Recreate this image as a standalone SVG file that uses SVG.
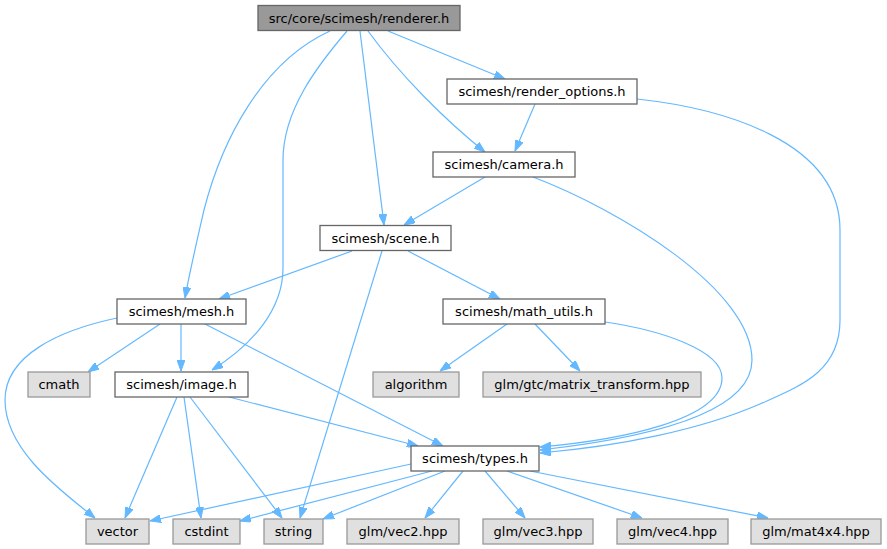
<svg xmlns="http://www.w3.org/2000/svg" width="887" height="549" viewBox="0 0 887 549">
<style>
.n rect{fill:#ffffff;stroke:#666666;stroke-width:1.3}
.n.root rect{fill:#999999;stroke:#666666}
.n.leaf rect{fill:#e0e0e0;stroke:#999999}
.n text{font-family:"DejaVu Sans",sans-serif;font-size:13px;fill:#000000;text-anchor:middle}
#edges path{fill:none;stroke:#63b8ff;stroke-width:1.2;marker-end:url(#ah)}
</style>
<defs>
<marker id="ah" markerUnits="userSpaceOnUse" markerWidth="11" markerHeight="8" refX="11" refY="4" orient="auto">
<path d="M0,0 L11,4 L0,8 z" fill="#63b8ff" stroke="#63b8ff" stroke-width="1"/>
</marker>
</defs>
<rect width="887" height="549" fill="#ffffff"/>
<g id="edges">
<path d="M388,31 L505,79"/>
<path d="M368,31 C400,75 445,120 485,152"/>
<path d="M360,31 L384,225"/>
<path d="M330,31 C262,62 222,140 204,210 C196,245 189,275 185,298"/>
<path d="M347,31 C318,65 283,110 283,160 L283,268 C283,310 252,345 212,370"/>
<path d="M535,104 L515,151"/>
<path d="M637,99 C720,108 840,140 840,230 L840,320 C840,372 800,386 760,404 C700,430 620,446 540,453"/>
<path d="M485,177 L404,225"/>
<path d="M533,177 C620,210 752,290 752,360 C752,420 620,441 540,450"/>
<path d="M352,251 L219,299"/>
<path d="M408,251 L500,299"/>
<path d="M382,251 L300,518"/>
<path d="M160,324 L88,372"/>
<path d="M181,324 L181,371"/>
<path d="M117,318 C60,330 5,355 5,400 C5,450 60,490 95,518"/>
<path d="M205,324 L443,446"/>
<path d="M177,397 L125,518"/>
<path d="M184,397 L201,518"/>
<path d="M190,397 L282,518"/>
<path d="M229,397 L418,446"/>
<path d="M507,324 L440,371"/>
<path d="M535,324 L580,371"/>
<path d="M605,322 C660,330 722,350 722,378 C722,420 620,440 540,447"/>
<path d="M411,464 L150,521"/>
<path d="M432,471 L240,521"/>
<path d="M445,471 L323,519"/>
<path d="M463,471 L425,518"/>
<path d="M485,471 L525,518"/>
<path d="M507,471 L642,518"/>
<path d="M530,471 L768,518"/>
</g>
<g id="renderer" class="n root"><rect x="258" y="5.5" width="202" height="25"/><text x="359" y="22.5">src/core/scimesh/renderer.h</text></g>
<g id="render_options" class="n"><rect x="447" y="79" width="190" height="25"/><text x="542" y="96">scimesh/render_options.h</text></g>
<g id="camera" class="n"><rect x="433" y="152" width="142" height="25"/><text x="504" y="169">scimesh/camera.h</text></g>
<g id="scene" class="n"><rect x="320" y="225.5" width="131" height="25"/><text x="385.5" y="242.5">scimesh/scene.h</text></g>
<g id="mesh" class="n"><rect x="117" y="299" width="129" height="25"/><text x="181.5" y="316">scimesh/mesh.h</text></g>
<g id="math_utils" class="n"><rect x="443" y="299" width="162" height="25"/><text x="524" y="316">scimesh/math_utils.h</text></g>
<g id="cmath" class="n leaf"><rect x="28" y="372" width="62" height="25"/><text x="59" y="389">cmath</text></g>
<g id="image" class="n"><rect x="115" y="372" width="133" height="25"/><text x="181.5" y="389">scimesh/image.h</text></g>
<g id="algorithm" class="n leaf"><rect x="373" y="372" width="86" height="25"/><text x="416" y="389">algorithm</text></g>
<g id="matrix_transform" class="n leaf"><rect x="483" y="372" width="218" height="25"/><text x="592" y="389">glm/gtc/matrix_transform.hpp</text></g>
<g id="types" class="n"><rect x="411" y="446" width="128" height="25"/><text x="475" y="463">scimesh/types.h</text></g>
<g id="vector" class="n leaf"><rect x="86" y="519" width="63" height="25"/><text x="117.5" y="536">vector</text></g>
<g id="cstdint" class="n leaf"><rect x="173" y="519" width="67" height="25"/><text x="206.5" y="536">cstdint</text></g>
<g id="string" class="n leaf"><rect x="264" y="519" width="59" height="25"/><text x="293.5" y="536">string</text></g>
<g id="vec2" class="n leaf"><rect x="347" y="519" width="112" height="25"/><text x="403" y="536">glm/vec2.hpp</text></g>
<g id="vec3" class="n leaf"><rect x="483" y="519" width="110" height="25"/><text x="538" y="536">glm/vec3.hpp</text></g>
<g id="vec4" class="n leaf"><rect x="617" y="519" width="111" height="25"/><text x="672.5" y="536">glm/vec4.hpp</text></g>
<g id="mat4x4" class="n leaf"><rect x="751" y="519" width="130" height="25"/><text x="816" y="536">glm/mat4x4.hpp</text></g>
</svg>
